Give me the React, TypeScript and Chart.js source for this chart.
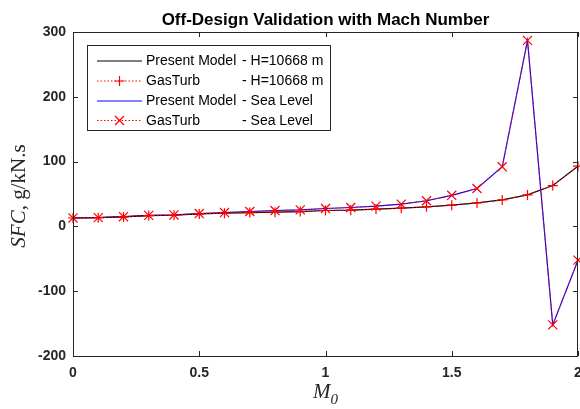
import React, { useEffect, useRef } from "react";
import { Chart, registerables } from "chart.js";

Chart.register(...registerables);

const machNumbers = [0, 0.1, 0.2, 0.3, 0.4, 0.5, 0.6, 0.7, 0.8, 0.9, 1.0, 1.1, 1.2, 1.3, 1.4, 1.5, 1.6, 1.7, 1.8, 1.9, 2.0];
const sfcPresentAlt = [13.0, 13.5, 14.6, 16.7, 17.2, 19.3, 20.3, 21.4, 21.9, 22.9, 24.5, 25.0, 26.6, 28.1, 30.2, 32.8, 36.2, 40.9, 48.6, 63.0, 93.0];
const sfcGasTurbAlt = [13.0, 13.5, 14.6, 16.7, 17.2, 19.3, 20.3, 21.4, 21.9, 22.9, 24.5, 25.0, 26.6, 28.1, 30.2, 32.8, 36.2, 40.9, 48.6, 63.0, 93.0];
const sfcPresentSea = [13.0, 13.5, 15.0, 17.0, 17.7, 19.8, 21.4, 23.0, 24.5, 25.5, 27.6, 29.2, 31.3, 34.4, 39.6, 48.0, 58.5, 92.0, 287.0, -152.0, -52.0];
const sfcGasTurbSea = [13.0, 13.5, 15.0, 17.0, 17.7, 19.8, 21.4, 23.0, 24.5, 25.5, 27.6, 29.2, 31.3, 34.4, 39.6, 48.0, 58.5, 92.0, 287.0, -152.0, -52.0];

const xTicks = [0, 0.5, 1, 1.5, 2];
const yTicks = [-200, -100, 0, 100, 200, 300];

const titleText = "Off-Design Validation with Mach Number";
const legendLabels = [
  ["Present Model", "- H=10668 m"],
  ["GasTurb", "- H=10668 m"],
  ["Present Model", "- Sea Level"],
  ["GasTurb", "- Sea Level"],
];

const AXIS_COLOR = "#262626";
const SANS = "'Liberation Sans', Arial, Helvetica, sans-serif";
const SERIF = "'Liberation Serif', 'Times New Roman', serif";

const pts = (ys: number[]) => machNumbers.map((x, i) => ({ x, y: ys[i] }));

const decorPlugin = {
  id: "decor",
  afterDraw(chart: any) {
    const { ctx, chartArea } = chart;
    const { left, right, top, bottom } = chartArea;
    const xs = chart.scales.x;
    const ys = chart.scales.y;
    ctx.save();
    // frame
    ctx.strokeStyle = AXIS_COLOR;
    ctx.lineWidth = 1;
    ctx.strokeRect(Math.round(left) + 0.5, Math.round(top) + 0.5, Math.round(right - left) - 1, Math.round(bottom - top));
    // inward ticks
    const tl = 5;
    ctx.beginPath();
    xTicks.forEach((v) => {
      const px = Math.round(xs.getPixelForValue(v)) + 0.5;
      ctx.moveTo(px, bottom);
      ctx.lineTo(px, bottom - tl);
      ctx.moveTo(px, top);
      ctx.lineTo(px, top + tl);
    });
    yTicks.forEach((v) => {
      const py = Math.round(ys.getPixelForValue(v)) + 0.5;
      ctx.moveTo(left, py);
      ctx.lineTo(left + tl, py);
      ctx.moveTo(right, py);
      ctx.lineTo(right - tl, py);
    });
    ctx.stroke();

    // title
    ctx.fillStyle = "#000";
    ctx.font = `bold 17px ${SANS}`;
    ctx.textAlign = "center";
    ctx.textBaseline = "alphabetic";
    ctx.fillText(titleText, (left + right) / 2, 25);

    // x axis label M_0
    ctx.fillStyle = AXIS_COLOR;
    ctx.font = `italic 21px ${SERIF}`;
    ctx.textAlign = "left";
    const mW = ctx.measureText("M").width;
    ctx.font = `italic 15px ${SERIF}`;
    const zW = ctx.measureText("0").width;
    const xStart = (left + right) / 2 - (mW + zW) / 2;
    ctx.font = `italic 21px ${SERIF}`;
    ctx.fillText("M", xStart, 398);
    ctx.font = `italic 15px ${SERIF}`;
    ctx.fillText("0", xStart + mW, 404);

    // y axis label
    ctx.save();
    ctx.translate(25, (top + bottom) / 2 + 2);
    ctx.rotate(-Math.PI / 2);
    ctx.font = `italic 21px ${SERIF}`;
    const w1 = ctx.measureText("SFC").width;
    ctx.font = `21px ${SERIF}`;
    const w2 = ctx.measureText(", g/kN.s").width;
    const sx = -(w1 + w2) / 2;
    ctx.textAlign = "left";
    ctx.font = `italic 21px ${SERIF}`;
    ctx.fillText("SFC", sx, 0);
    ctx.font = `21px ${SERIF}`;
    ctx.fillText(", g/kN.s", sx + w1, 0);
    ctx.restore();

    // legend
    const bx = 87.5, by = 45.5, bw = 243, bh = 85;
    ctx.fillStyle = "#fff";
    ctx.fillRect(bx, by, bw, bh);
    ctx.strokeStyle = AXIS_COLOR;
    ctx.lineWidth = 1;
    ctx.strokeRect(bx, by, bw, bh);
    const rows = [61, 81, 101, 120.5];
    const lx0 = 97, lx1 = 142, lmid = 119.5;
    rows.forEach((ry, i) => {
      ctx.save();
      ctx.lineWidth = 1;
      if (i === 0 || i === 2) {
        ctx.strokeStyle = i === 0 ? "#000" : "#0000ff";
        ctx.beginPath();
        ctx.moveTo(lx0, ry);
        ctx.lineTo(lx1, ry);
        ctx.stroke();
      } else {
        ctx.strokeStyle = "#ff0000";
        ctx.setLineDash([1.5, 2]);
        ctx.beginPath();
        ctx.moveTo(lx0, ry);
        ctx.lineTo(lx1, ry);
        ctx.stroke();
        ctx.setLineDash([]);
        ctx.lineWidth = 1.2;
        ctx.beginPath();
        if (i === 1) {
          ctx.moveTo(lmid - 5, ry);
          ctx.lineTo(lmid + 5, ry);
          ctx.moveTo(lmid, ry - 5);
          ctx.lineTo(lmid, ry + 5);
        } else {
          ctx.moveTo(lmid - 4.5, ry - 4.5);
          ctx.lineTo(lmid + 4.5, ry + 4.5);
          ctx.moveTo(lmid - 4.5, ry + 4.5);
          ctx.lineTo(lmid + 4.5, ry - 4.5);
        }
        ctx.stroke();
      }
      ctx.restore();
      ctx.fillStyle = "#000";
      ctx.font = `14px ${SANS}`;
      ctx.textAlign = "left";
      ctx.textBaseline = "middle";
      ctx.fillText(legendLabels[i][0], 146, ry + 0.5);
      ctx.fillText(legendLabels[i][1], 242, ry + 0.5);
    });
    ctx.restore();
  },
};

export default function App() {
  const canvasRef = useRef<HTMLCanvasElement | null>(null);

  useEffect(() => {
    if (!canvasRef.current) return;
    const chart = new Chart(canvasRef.current, {
      type: "scatter",
      data: {
        datasets: [
          {
            label: "Present Model - H=10668 m",
            data: pts(sfcPresentAlt),
            showLine: true,
            borderColor: "#000000",
            borderWidth: 1.2,
            pointRadius: 0,
            order: 2,
          },
          {
            label: "Present Model - Sea Level",
            data: pts(sfcPresentSea),
            showLine: true,
            borderColor: "#0000ff",
            borderWidth: 1.2,
            pointRadius: 0,
            order: 2,
          },
          {
            label: "GasTurb - H=10668 m",
            data: pts(sfcGasTurbAlt),
            showLine: true,
            clip: false,
            borderColor: "#ff0000",
            borderWidth: 1,
            borderDash: [1.5, 2],
            pointStyle: "cross",
            pointRadius: 5,
            pointBorderColor: "#ff0000",
            pointBorderWidth: 1.2,
            order: 1,
          },
          {
            label: "GasTurb - Sea Level",
            data: pts(sfcGasTurbSea),
            showLine: true,
            clip: false,
            borderColor: "#ff0000",
            borderWidth: 1,
            borderDash: [1.5, 2],
            pointStyle: "crossRot",
            pointRadius: 6.4,
            pointBorderColor: "#ff0000",
            pointBorderWidth: 1.2,
            order: 1,
          },
        ],
      },
      options: {
        responsive: false,
        animation: false,
        events: [],
        layout: { autoPadding: false, padding: { top: 32, right: 2, bottom: 0, left: 0 } },
        plugins: {
          legend: { display: false },
          title: { display: false },
          tooltip: { enabled: false },
        },
        scales: {
          x: {
            type: "linear",
            min: 0,
            max: 2,
            afterFit: (s: any) => {
              s.height = 53;
              s.paddingLeft = 0;
              s.paddingRight = 0;
            },
            afterBuildTicks: (s: any) => {
              s.ticks = xTicks.map((v) => ({ value: v }));
            },
            grid: { display: false, drawTicks: false },
            border: { display: false },
            ticks: {
              padding: 9,
              color: AXIS_COLOR,
              font: { family: SANS, size: 14, weight: "bold" },
              maxRotation: 0,
              callback: (v: any) => String(v),
            },
          },
          y: {
            type: "linear",
            min: -200,
            max: 300,
            afterFit: (s: any) => {
              s.width = 73;
              s.paddingTop = 0;
              s.paddingBottom = 0;
            },
            afterBuildTicks: (s: any) => {
              s.ticks = yTicks.map((v) => ({ value: v }));
            },
            grid: { display: false, drawTicks: false },
            border: { display: false },
            ticks: {
              padding: 7,
              color: AXIS_COLOR,
              font: { family: SANS, size: 14, weight: "bold" },
              callback: (v: any) => String(v),
            },
          },
        },
      },
      plugins: [decorPlugin],
    });
    return () => chart.destroy();
  }, []);

  return (
    <div style={{ position: "fixed", left: 0, top: 0, width: 580, height: 409, background: "#fff" }}>
      <canvas ref={canvasRef} width={580} height={409} style={{ display: "block" }} />
    </div>
  );
}
